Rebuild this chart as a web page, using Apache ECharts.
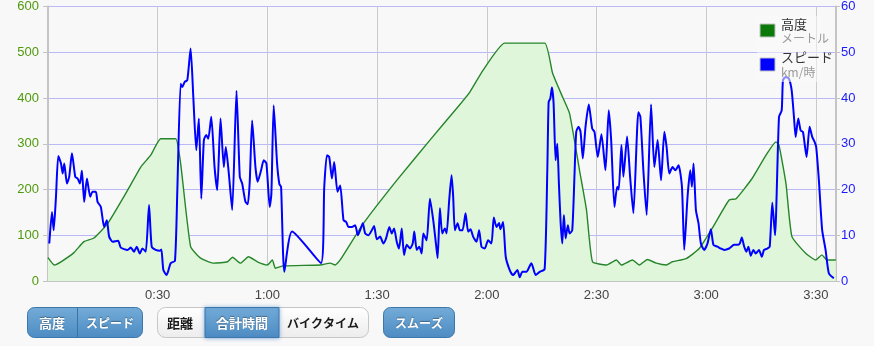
<!DOCTYPE html>
<html><head><meta charset="utf-8">
<script src="https://cdn.jsdelivr.net/npm/echarts@6/dist/echarts.min.js"></script>
<style>html,body{margin:0;padding:0;background:#f8f8f8}#c{width:874px;height:346px}</style>
</head><body><div id="c"></div>
<script>
// time in minutes, elevation in metres
const elevation = [[0,51],[1.72,35],[3.55,42],[7.09,62],[9.82,86],[12.55,94],[16.36,126],[21.82,199],[25.36,249],[28.09,275],[30.82,311],[34.91,311],[36.27,257],[39.0,75],[41.73,50],[45.27,39],[49.09,42],[50.45,52],[52.64,39],[54.82,53],[57.27,42],[60.0,35],[61.36,46],[62.18,28],[64.36,33],[74.45,35],[77.18,39],[78.55,35],[79.91,46],[86.27,126],[95.37,220],[104.45,308],[111.73,377],[115.36,413],[118.91,460],[124.91,520],[135.82,520],[138.0,454],[140.73,402],[142.64,366],[145.36,242],[147.27,155],[148.91,42],[152.73,35],[155.45,46],[156.82,35],[159.82,46],[161.73,35],[163.91,47],[166.36,39],[169.09,35],[170.73,42],[174.55,49],[178.09,71],[181.64,115],[186.27,177],[188.18,180],[192.55,224],[196.36,275],[199.09,304],[199.91,297],[201.82,213],[203.45,97],[207.27,60],[210.0,46],[211.64,57],[213.0,46],[215.45,46]];
// time in minutes, speed in km/h
const speed = [[0.35,8.2],[1.09,15.1],[1.55,11.1],[2.18,18.4],[2.81,27.3],[3.55,25.7],[4.01,23.5],[4.45,25.7],[5.18,21.3],[5.81,22.8],[6.55,27.9],[7.45,22.8],[8.10,22.4],[8.73,21.3],[9.27,24.1],[9.90,17.3],[10.64,22.4],[11.54,18.4],[12.19,19.5],[13.09,19.5],[13.55,17.3],[14.45,16.2],[15.35,11.8],[16.09,13.3],[16.72,9.7],[17.65,8.6],[19.17,8.8],[19.91,7.3],[21.74,6.8],[22.64,7.3],[23.54,6.4],[24.27,7.5],[25.09,6.0],[25.83,7.1],[26.73,6.4],[27.63,16.6],[28.36,7.5],[29.45,6.8],[30.63,6.6],[31.01,6.9],[31.55,2.4],[32.45,1.3],[33.54,3.9],[34.72,4.4],[35.37,19.9],[36.27,43.1],[36.74,42.4],[37.36,43.5],[38.10,43.9],[39.0,50.8],[39.74,40.2],[40.55,28.6],[41.26,35.5],[41.92,18.0],[42.63,30.8],[43.28,31.9],[43.83,31.1],[44.65,35.9],[45.55,24.9],[46.28,19.9],[47.18,35.5],[48.08,24.9],[48.63,29.3],[49.45,23.5],[50.37,15.5],[51.55,41.6],[52.45,22.8],[53.10,21.3],[54.0,17.3],[54.63,16.8],[55.17,21.7],[55.83,35.1],[56.73,24.9],[57.35,21.7],[58.28,24.2],[58.99,26.4],[59.73,25.7],[60.63,16.2],[61.09,19.1],[61.72,38.4],[62.65,25.7],[63.27,21.2],[63.74,20.6],[64.64,2.0],[66.74,10.8],[74.65,3.9],[75.55,20.6],[76.28,27.5],[76.91,27.1],[77.65,22.4],[78.27,26.0],[79.17,19.5],[79.91,20.9],[80.81,13.3],[81.55,12.9],[82.17,11.8],[83.10,11.8],[84.0,12.2],[84.74,10.0],[85.36,11.1],[86.10,12.6],[86.73,10.4],[87.63,10.0],[88.55,11.1],[89.18,12.0],[89.92,9.1],[90.82,9.7],[91.72,8.2],[92.45,9.3],[93.35,11.8],[94.01,10.4],[94.64,11.5],[95.37,8.6],[96.0,7.1],[96.74,11.5],[97.36,5.7],[98.10,7.9],[99.0,7.1],[99.74,8.2],[100.17,10.8],[100.83,6.8],[101.54,7.5],[102.19,6.0],[102.63,10.4],[103.55,8.9],[104.45,18.0],[105.35,13.3],[106.09,8.2],[106.55,5.0],[107.18,15.9],[107.81,10.4],[108.54,11.5],[109.01,10.4],[109.72,17.7],[110.37,23.1],[110.81,18.4],[111.27,11.1],[112.01,12.6],[112.63,11.1],[113.37,11.1],[114.19,14.8],[114.90,10.8],[115.55,11.3],[116.26,9.7],[117.19,8.6],[117.90,11.1],[118.55,7.5],[119.45,7.1],[120.35,8.9],[121.28,8.2],[121.91,13.9],[122.65,11.8],[123.35,12.7],[123.74,11.3],[124.45,12.9],[125.18,5.3],[126.27,2.4],[127.17,1.3],[128.37,2.4],[129.0,0.8],[129.74,2.0],[130.83,2.0],[132.19,3.9],[133.36,1.3],[134.45,2.0],[135.82,2.6],[136.55,24.2],[136.91,39.1],[137.37,39.9],[137.81,42.3],[138.27,38.8],[138.82,26.4],[139.28,30.0],[139.72,21.3],[140.18,12.9],[140.64,8.2],[141.08,14.4],[141.55,9.3],[142.17,12.2],[142.64,10.4],[143.37,11.1],[144.0,23.5],[144.46,32.6],[145.09,33.7],[145.64,32.6],[146.26,26.8],[147.0,33.7],[147.90,38.6],[148.83,33.3],[149.45,32.6],[150.35,27.1],[151.36,32.1],[152.45,24.2],[153.35,37.3],[154.01,30.8],[154.91,16.2],[155.65,20.6],[156.08,20.0],[156.82,29.7],[157.36,22.8],[158.37,31.6],[159.19,22.8],[160.09,14.8],[161.45,36.9],[162.0,35.9],[162.82,24.2],[163.72,14.4],[164.92,38.6],[165.82,24.9],[166.72,30.8],[167.65,22.0],[168.55,32.6],[169.17,29.3],[169.91,23.5],[170.81,24.9],[171.55,24.2],[172.45,25.3],[173.37,20.6],[174.0,6.8],[174.90,18.4],[175.64,24.2],[176.10,20.6],[176.54,25.7],[177.19,15.5],[177.90,12.6],[178.55,8.2],[179.45,6.8],[180.35,8.2],[181.28,11.3],[181.99,7.9],[183.08,7.5],[184.0,7.1],[184.91,6.8],[186.27,7.1],[187.64,7.9],[188.54,7.9],[189.19,8.2],[189.74,9.5],[190.36,7.6],[190.99,6.4],[191.54,7.5],[192.19,5.5],[192.90,6.8],[193.55,6.0],[194.45,6.8],[195.19,5.3],[195.82,6.8],[196.72,7.1],[197.37,7.5],[198.08,17.1],[198.82,10.0],[199.91,35.9],[200.65,37.3],[201.0,43.9],[201.74,44.6],[202.64,44.2],[203.37,41.7],[204.0,35.9],[204.46,31.5],[205.17,35.5],[205.83,32.9],[206.45,32.6],[206.92,30.0],[207.46,27.1],[208.28,33.7],[208.99,31.5],[209.64,30.4],[210.08,29.3],[210.82,22.0],[211.72,11.1],[212.65,6.8],[213.54,1.7],[214.91,0.6]];

const timeTicks = [30, 60, 90, 120, 150, 180, 210];
const timeLabels = ['0:30', '1:00', '1:30', '2:00', '2:30', '3:00', '3:30'];
const altitudeTicks = [0, 100, 200, 300, 400, 500, 600];
const speedTicks = [0, 10, 20, 30, 40, 50, 60];
const legendNames = ['高度', 'スピード'];
const legendUnits = ['メートル', 'km/時'];
const buttonsA = ['高度', 'スピード'];
const buttonsB = ['距離', '合計時間', 'バイクタイム'];
const buttonsC = ['スムーズ'];

const chart = echarts.init(document.getElementById('c'), null, {renderer: 'canvas'});
const NUM_FONT = 'Liberation Sans, Arial, sans-serif';
const JP_FONT = '"Noto Sans CJK JP", sans-serif';

function blueGrad() {
  return new echarts.graphic.LinearGradient(0, 0, 0, 1, [
    {offset: 0, color: '#74acd8'}, {offset: 1, color: '#4c8bc2'}]);
}
function whiteGrad() {
  return new echarts.graphic.LinearGradient(0, 0, 0, 1, [
    {offset: 0, color: '#ffffff'}, {offset: 1, color: '#ececec'}]);
}
function btnText(str, cx, light, size) {
  return {
    type: 'text', x: cx, y: 323, z: 10,
    style: {
      text: str, align: 'center', verticalAlign: 'middle',
      font: 'bold ' + (size || 13) + 'px ' + JP_FONT,
      fill: light ? '#ffffff' : '#1a1a1a',
      textShadowColor: light ? 'rgba(0,0,0,0.35)' : 'rgba(255,255,255,0.6)',
      textShadowBlur: 1, textShadowOffsetY: light ? -1 : 1
    }
  };
}

const graphics = [
  // legend backdrop
  {type: 'rect', shape: {x: 757, y: 16, width: 66, height: 66}, z: 5,
   style: {fill: 'rgba(249,249,249,0.55)'}},
  {type: 'rect', shape: {x: 760, y: 24, width: 15, height: 13}, z: 6,
   style: {fill: '#0b7a0b', stroke: '#c4c4c4', lineWidth: 1}},
  {type: 'text', x: 781, y: 24, z: 6, style: {text: legendNames[0], font: '13px ' + JP_FONT, fill: '#333', verticalAlign: 'middle'}},
  {type: 'text', x: 781, y: 38, z: 6, style: {text: legendUnits[0], font: '12px ' + JP_FONT, fill: '#999', verticalAlign: 'middle'}},
  {type: 'rect', shape: {x: 760, y: 58, width: 15, height: 13}, z: 6,
   style: {fill: '#0000ff', stroke: '#c4c4c4', lineWidth: 1}},
  {type: 'text', x: 781, y: 57, z: 6, style: {text: legendNames[1], font: '13px ' + JP_FONT, fill: '#333', verticalAlign: 'middle'}},
  {type: 'text', x: 781, y: 72, z: 6, style: {text: legendUnits[1], font: '12px ' + JP_FONT, fill: '#999', verticalAlign: 'middle'}},

  // button group A
  {type: 'rect', shape: {x: 27.5, y: 307.5, width: 115, height: 30, r: 7}, z: 5,
   style: {fill: blueGrad(), stroke: '#3b77ab', lineWidth: 1}},
  {type: 'line', shape: {x1: 77.5, y1: 308, x2: 77.5, y2: 337}, z: 6, style: {stroke: '#3a74a6', lineWidth: 1}},
  btnText(buttonsA[0], 52, true),
  btnText(buttonsA[1], 110, true, 12),

  // button group B
  {type: 'rect', shape: {x: 157.5, y: 307.5, width: 211, height: 30, r: 8}, z: 5,
   style: {fill: whiteGrad(), stroke: '#c6c6c6', lineWidth: 1}},
  {type: 'rect', shape: {x: 205, y: 307.5, width: 74, height: 30}, z: 6,
   style: {fill: blueGrad(), stroke: '#3b77ab', lineWidth: 1, shadowColor: 'rgba(70,130,200,0.6)', shadowBlur: 4}},
  btnText(buttonsB[0], 180, false),
  btnText(buttonsB[1], 242, true),
  btnText(buttonsB[2], 323, false, 12),

  // button C
  {type: 'rect', shape: {x: 383.5, y: 307.5, width: 71, height: 30, r: 7}, z: 5,
   style: {fill: blueGrad(), stroke: '#3b77ab', lineWidth: 1}},
  btnText(buttonsC[0], 419, true, 12)
];

chart.setOption({
  backgroundColor: '#f8f8f8',
  animation: false,
  grid: {left: 48, right: 38, top: 6, bottom: 65, show: true, borderColor: '#cfcfcf', borderWidth: 1, backgroundColor: 'rgba(0,0,0,0)'},
  xAxis: {
    type: 'value', min: 0, max: 215.5, interval: 30,
    axisLine: {show: true, lineStyle: {color: '#c4c4c4', width: 2}},
    axisTick: {show: false},
    axisLabel: {
      showMinLabel: false, showMaxLabel: false, margin: 8,
      color: '#444', fontSize: 13, fontFamily: NUM_FONT,
      formatter: v => { const i = timeTicks.indexOf(v); return i >= 0 ? timeLabels[i] : ''; }
    },
    splitLine: {show: true, lineStyle: {color: '#cacaca', width: 1}}
  },
  yAxis: [
    {
      type: 'value', min: altitudeTicks[0], max: altitudeTicks[altitudeTicks.length - 1], interval: 100,
      axisLine: {show: true, lineStyle: {color: '#c4c4c4', width: 2}},
      axisTick: {show: true, length: 5, lineStyle: {color: '#c4c4c4'}},
      axisLabel: {color: '#4f9a0c', fontSize: 13, fontFamily: NUM_FONT, margin: 9,
        formatter: v => altitudeTicks.indexOf(v) >= 0 ? String(v) : ''},
      splitLine: {show: true, lineStyle: {color: '#b9b9f5', width: 1}}
    },
    {
      type: 'value', min: speedTicks[0], max: speedTicks[speedTicks.length - 1], interval: 10,
      axisLine: {show: true, lineStyle: {color: '#c4c4c4', width: 2}},
      axisTick: {show: true, length: 4, lineStyle: {color: '#c4c4c4'}},
      axisLabel: {color: '#1a1aff', fontSize: 13, fontFamily: NUM_FONT, margin: 5,
        formatter: v => speedTicks.indexOf(v) >= 0 ? String(v) : ''},
      splitLine: {show: false}
    }
  ],
  series: [
    {
      name: legendNames[0], type: 'line', yAxisIndex: 0, data: elevation,
      showSymbol: false, symbol: 'none', z: 2, smooth: 0.15,
      lineStyle: {color: '#26852a', width: 1.4},
      areaStyle: {color: '#dff6da', opacity: 1}
    },
    {
      name: legendNames[1], type: 'line', yAxisIndex: 1, data: speed,
      showSymbol: false, symbol: 'none', z: 3, smooth: 0.2,
      lineStyle: {color: '#0000ff', width: 2}
    }
  ],
  graphic: graphics
});
</script></body></html>
